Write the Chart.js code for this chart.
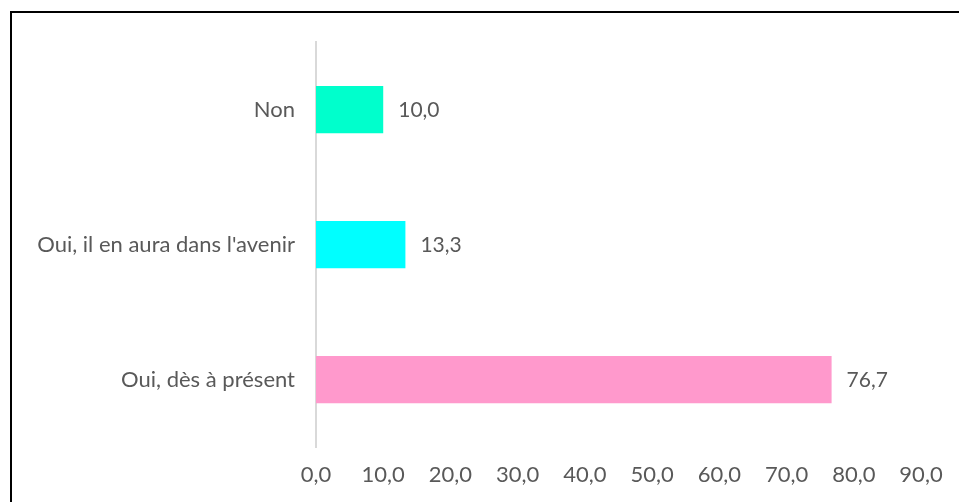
<!DOCTYPE html>
<html>
<head>
<meta charset="utf-8">
<script src="https://cdn.jsdelivr.net/npm/chart.js@4"></script>
<style>
html,body{margin:0;padding:0;background:#fff;}
#wrap{position:relative;width:959px;height:502px;overflow:hidden;}
#frame{position:absolute;left:10px;top:11px;width:980px;height:520px;border:2px solid #000;box-sizing:border-box;pointer-events:none;}
canvas{position:absolute;left:0;top:0;}
</style>
</head>
<body>
<div id="wrap">
<canvas id="c" width="959" height="502"></canvas>
<div id="frame"></div>
</div>
<script>
const categories = ["Non", "Oui, il en aura dans l'avenir", "Oui, dès à présent"];
const values = [10.0, 13.3, 76.7];
const barColors = ["#00FFCC", "#00FFFF", "#FF99CC"];
const axisMin = 0, axisMax = 90, axisStep = 10;

const fmt = v => Number(v).toFixed(1).replace('.', ',');
const FONT = 'Lato, "Open Sans", sans-serif';

const valueLabels = {
  id: 'valueLabels',
  afterDatasetsDraw(chart) {
    const ctx = chart.ctx;
    const meta = chart.getDatasetMeta(0);
    ctx.save();
    ctx.fillStyle = '#595959';
    ctx.font = '21px ' + FONT;
    ctx.textAlign = 'left';
    ctx.textBaseline = 'middle';
    meta.data.forEach((bar, i) => {
      ctx.fillText(fmt(values[i]), bar.x + 15, bar.y + 1);
    });
    ctx.restore();
  }
};

new Chart(document.getElementById('c'), {
  type: 'bar',
  data: {
    labels: categories,
    datasets: [{
      data: values,
      backgroundColor: barColors,
      borderWidth: 0,
      categoryPercentage: 1,
      barPercentage: 0.35
    }]
  },
  options: {
    indexAxis: 'y',
    responsive: false,
    animation: false,
    layout: { padding: { top: 42, right: 38, left: 0, bottom: 0 } },
    plugins: { legend: { display: false }, tooltip: { enabled: false } },
    scales: {
      x: {
        min: axisMin, max: axisMax,
        grid: { display: false, drawTicks: false },
        border: { display: false },
        ticks: {
          stepSize: axisStep,
          color: '#595959',
          font: { family: FONT, size: 22 },
          padding: 15,
          maxRotation: 0,
          autoSkip: false,
          callback: v => fmt(v)
        },
        afterFit(s) { s.height = 55; }
      },
      y: {
        grid: { display: false, drawTicks: false },
        border: { display: true, color: '#d9d9d9', width: 2 },
        ticks: {
          color: '#595959',
          font: { family: FONT, size: 22 },
          padding: 21
        },
        afterFit(s) { s.width = 316; }
      }
    }
  },
  plugins: [valueLabels]
});
</script>
</body>
</html>
